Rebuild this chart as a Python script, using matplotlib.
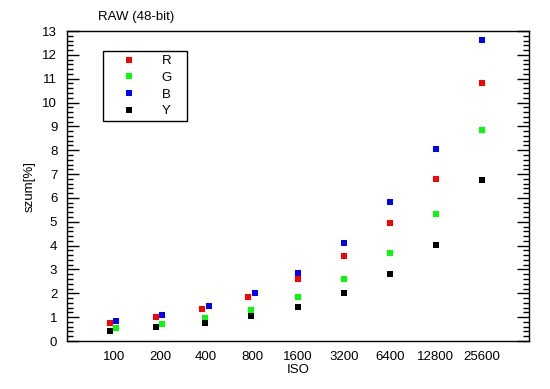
import matplotlib
matplotlib.use('Agg')
import matplotlib.pyplot as plt
from matplotlib.ticker import MultipleLocator
from matplotlib.lines import Line2D
import numpy as np

plt.rc('font', family=['Liberation Sans', 'DejaVu Sans'], size=9.5)

iso_labels = ['100', '200', '400', '800', '1600', '3200', '6400', '12800', '25600']

# noise [%] per channel
r_vals = [0.74, 0.99, 1.33, 1.84, 2.59, 3.55, 4.93, 6.78, 10.81]
g_vals = [0.53, 0.70, 0.95, 1.29, 1.83, 2.59, 3.68, 5.31, 8.83]
b_vals = [0.83, 1.08, 1.45, 2.00, 2.84, 4.10, 5.82, 8.04, 12.61]
y_vals = [0.41, 0.57, 0.74, 1.04, 1.41, 2.00, 2.80, 4.01, 6.74]

# small horizontal shifts of the points within each ISO group
r_shift = [-0.096, -0.094, -0.09, -0.09, 0, 0, 0, 0, 0]
g_shift = [0.035, 0.037, -0.026, -0.02, 0, 0, 0, 0, 0]
b_shift = [0.035, 0.037, 0.06, 0.065, 0, 0, 0, 0, 0]
y_shift = [-0.096, -0.094, -0.026, -0.02, 0, 0, 0, 0, 0]

pos = np.arange(1, len(iso_labels) + 1)

series = [('R', r_vals, r_shift, '#ff0000'),
          ('G', g_vals, g_shift, '#00ff00'),
          ('B', b_vals, b_shift, '#0000ff'),
          ('Y', y_vals, y_shift, '#000000')]

fig = plt.figure(figsize=(5.5, 3.89), dpi=100)
ax = fig.add_axes([67/550, 1 - 341/389, (529-67)/550, (341-31)/389])

for name, vals, shift, col in series:
    ax.plot(pos + np.array(shift), vals, linestyle='none', marker='s',
            markersize=4.3, markeredgewidth=0, color=col)

ax.set_xlim(-0.03, 10.03)
ax.set_ylim(0, 13)
ax.set_xticks(pos)
ax.set_xticklabels(iso_labels)
ax.tick_params(axis='x', length=0, pad=7)
ax.yaxis.set_major_locator(MultipleLocator(1))
ax.yaxis.set_minor_locator(MultipleLocator(0.2))
ax.tick_params(axis='y', which='both', direction='in', left=True, right=True, width=1, pad=7)
ax.tick_params(axis='y', which='major', length=8.6)
ax.tick_params(axis='y', which='minor', length=4.3)
for sp in ax.spines.values():
    sp.set_linewidth(1.0)

ax.set_xlabel('ISO', labelpad=1)
ax.set_ylabel('szum[%]', labelpad=5)

fig.text(98/550, 1 - 17/389, 'RAW (48-bit)', ha='left', va='center')

handles = [Line2D([], [], linestyle='none', marker='s', markersize=4.3,
                  markeredgewidth=0, color=col) for _, _, _, col in series]
leg = ax.legend(handles, [s[0] + '   ' for s in series], loc='upper left',
                bbox_to_anchor=((103-67)/462, (341-51)/310),
                frameon=True, fancybox=False, framealpha=1, edgecolor='black',
                borderpad=0.3, labelspacing=0.34, handlelength=3.4,
                handletextpad=0.8, borderaxespad=0)
leg.get_frame().set_linewidth(1.0)

fig.savefig('out.png', dpi=100)
